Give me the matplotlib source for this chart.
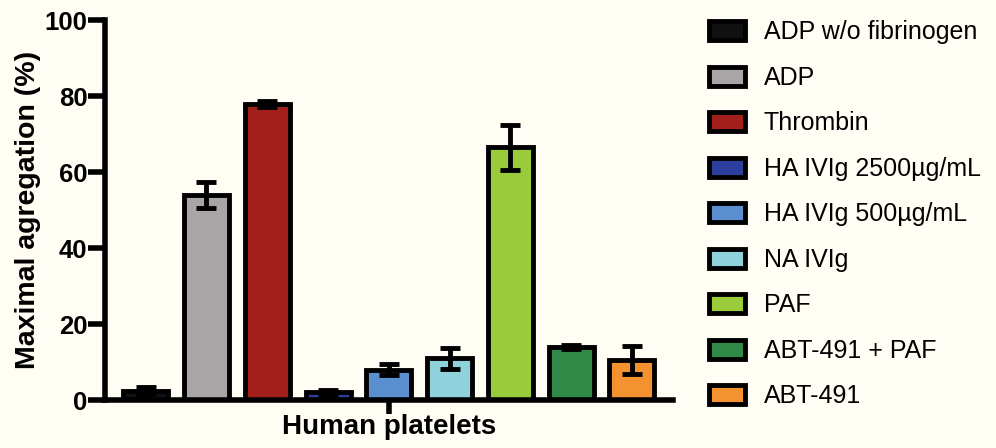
import numpy as np
import matplotlib.pyplot as plt
from matplotlib.patches import Patch

# dados
conditions = ['ADP w/o fibrinogen', 'ADP', 'Thrombin', 'HA IVIg 2500µg/mL',
              'HA IVIg 500µg/mL', 'NA IVIg', 'PAF', 'ABT-491 + PAF', 'ABT-491']
means = [2.5, 54, 78, 2, 8, 11, 66.5, 14, 10.5]
errors = [1.0, 3.5, 0.8, 0.6, 1.5, 2.7, 6.0, 0.6, 3.7]
colors = ['#111111', '#a9a5a6', '#a21f1c', '#2c3d9c', '#5b8fcf',
          '#8fd2db', '#9acb3b', '#2f8a48', '#f4922f']
yticks = [0, 20, 40, 60, 80, 100]

bg = '#fffdf4'
plt.rcParams['font.family'] = ['Liberation Sans', 'DejaVu Sans']

fig = plt.figure(figsize=(9.96, 4.48), dpi=100, facecolor=bg)
ax = fig.add_axes([0.1054, 0.107, 0.570, 0.848], facecolor=bg)

x = np.arange(len(means))
ax.bar(x, means, width=0.74, color=colors, edgecolor='black', linewidth=3.5, zorder=2)
ax.errorbar(x, means, yerr=errors, fmt='none', ecolor='black', elinewidth=3.5,
            capsize=7, capthick=3.5, zorder=3)

ax.set_xlim(-0.67, 8.67)
ax.set_ylim(0, 100)
ax.set_yticks(yticks)
ax.set_xticks([4], ['Human platelets'])
for s in ['top', 'right']:
    ax.spines[s].set_visible(False)
for s in ['left', 'bottom']:
    ax.spines[s].set_linewidth(4)
    ax.spines[s].set_capstyle('projecting')
ax.tick_params(axis='y', length=12, width=4, labelsize=18.5, pad=0.5)
ax.tick_params(axis='x', length=10, width=4, labelsize=20, pad=0)
for lab in ax.get_yticklabels() + ax.get_xticklabels():
    lab.set_fontweight('bold')
ax.set_ylabel('Maximal agregation (%)', fontsize=20.5, fontweight='bold', labelpad=3)

handles = [Patch(facecolor=c, edgecolor='black', linewidth=3.5) for c in colors]
fig.legend(handles, conditions, loc='upper left', bbox_to_anchor=(0.689, 1.005),
           frameon=False, fontsize=18, handlelength=1.45, handleheight=0.8,
           handletextpad=0.75, labelspacing=0.86)

fig.savefig('out.png', dpi=100, facecolor=bg)
